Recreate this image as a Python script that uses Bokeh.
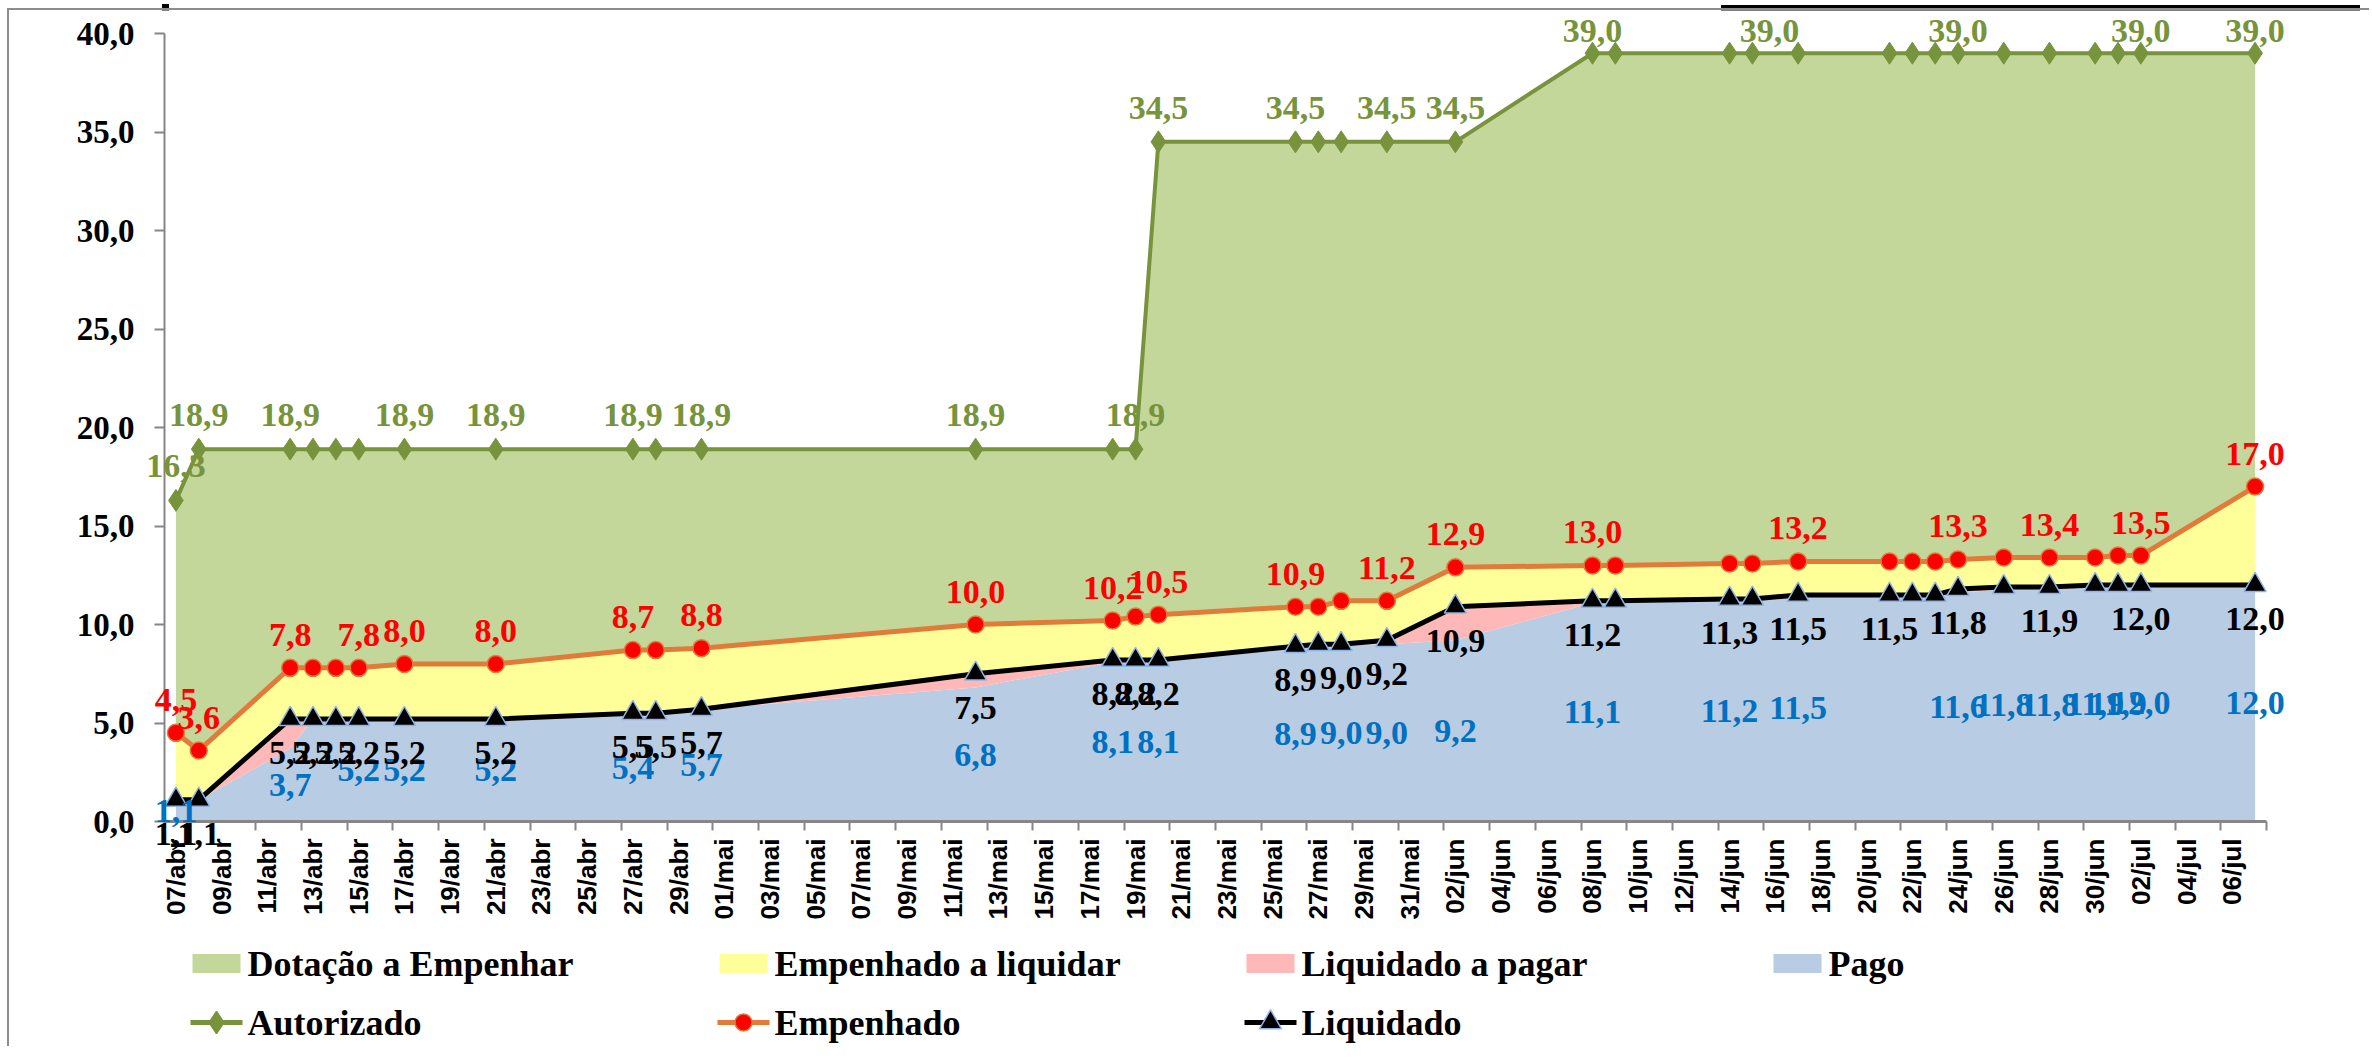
import math
from datetime import date
from bokeh.plotting import figure
from bokeh.models import ColumnDataSource, Range1d, FixedTicker, LabelSet, Div
from bokeh.layouts import column
from bokeh.core.properties import value
from bokeh.embed import file_html
from bokeh.resources import INLINE

ANO = 2013
INICIO = "07/04"

datas = ["07/04", "08/04", "12/04", "13/04", "14/04", "15/04", "17/04", "21/04",
         "27/04", "28/04", "30/04", "12/05", "18/05", "19/05", "20/05", "26/05",
         "27/05", "28/05", "30/05", "02/06", "08/06", "09/06", "14/06", "15/06",
         "17/06", "21/06", "22/06", "23/06", "24/06", "26/06", "28/06", "30/06",
         "01/07", "02/07", "07/07"]

autorizado = [16.3, 18.9, 18.9, 18.9, 18.9, 18.9, 18.9, 18.9,
              18.9, 18.9, 18.9, 18.9, 18.9, 18.9, 34.5, 34.5,
              34.5, 34.5, 34.5, 34.5, 39.0, 39.0, 39.0, 39.0,
              39.0, 39.0, 39.0, 39.0, 39.0, 39.0, 39.0, 39.0,
              39.0, 39.0, 39.0]

empenhado = [4.5, 3.6, 7.8, 7.8, 7.8, 7.8, 8.0, 8.0,
             8.7, 8.7, 8.8, 10.0, 10.2, 10.4, 10.5, 10.9,
             10.9, 11.2, 11.2, 12.9, 13.0, 13.0, 13.1, 13.1,
             13.2, 13.2, 13.2, 13.2, 13.3, 13.4, 13.4, 13.4,
             13.5, 13.5, 17.0]

liquidado = [1.1, 1.1, 5.2, 5.2, 5.2, 5.2, 5.2, 5.2,
             5.5, 5.5, 5.7, 7.5, 8.2, 8.2, 8.2, 8.9,
             9.0, 9.0, 9.2, 10.9, 11.2, 11.2, 11.3, 11.3,
             11.5, 11.5, 11.5, 11.5, 11.8, 11.9, 11.9, 12.0,
             12.0, 12.0, 12.0]

pago = [1.1, 1.1, 3.7, 5.2, 5.2, 5.2, 5.2, 5.2,
        5.4, 5.5, 5.7, 6.8, 8.1, 8.1, 8.1, 8.9,
        9.0, 9.0, 9.0, 9.2, 11.1, 11.2, 11.2, 11.3,
        11.5, 11.5, 11.5, 11.5, 11.6, 11.8, 11.8, 11.9,
        11.9, 12.0, 12.0]

# dates whose points carry a data label, per series
rot_autorizado = ["07/04", "08/04", "12/04", "17/04", "21/04", "27/04", "30/04",
                  "12/05", "19/05", "20/05", "26/05", "30/05", "02/06",
                  "08/06", "15/06", "24/06", "02/07", "07/07"]
rot_empenhado = ["07/04", "08/04", "12/04", "15/04", "17/04", "21/04", "27/04",
                 "30/04", "12/05", "18/05", "20/05", "26/05", "30/05", "02/06",
                 "08/06", "17/06", "24/06", "28/06", "02/07", "07/07"]
rot_liquidado = ["07/04", "08/04", "12/04", "13/04", "14/04", "15/04", "17/04",
                 "21/04", "27/04", "28/04", "30/04", "12/05", "18/05", "19/05",
                 "20/05", "26/05", "28/05", "30/05", "02/06", "08/06", "14/06",
                 "17/06", "21/06", "24/06", "28/06", "02/07", "07/07"]
rot_pago = ["07/04", "12/04", "15/04", "17/04", "21/04", "27/04", "30/04",
            "12/05", "18/05", "20/05", "26/05", "28/05", "30/05", "02/06",
            "08/06", "14/06", "17/06", "24/06", "26/06", "28/06", "30/06",
            "01/07", "02/07", "07/07"]

rotulos_x = ["07/abr", "09/abr", "11/abr", "13/abr", "15/abr", "17/abr", "19/abr",
             "21/abr", "23/abr", "25/abr", "27/abr", "29/abr", "01/mai", "03/mai",
             "05/mai", "07/mai", "09/mai", "11/mai", "13/mai", "15/mai", "17/mai",
             "19/mai", "21/mai", "23/mai", "25/mai", "27/mai", "29/mai", "31/mai",
             "02/jun", "04/jun", "06/jun", "08/jun", "10/jun", "12/jun", "14/jun",
             "16/jun", "18/jun", "20/jun", "22/jun", "24/jun", "26/jun", "28/jun",
             "30/jun", "02/jul", "04/jul", "06/jul"]
ticks_y = [0, 5, 10, 15, 20, 25, 30, 35, 40]
rotulos_y = ["0,0", "5,0", "10,0", "15,0", "20,0", "25,0", "30,0", "35,0", "40,0"]

nomes_areas = ["Dotação a Empenhar", "Empenhado a liquidar", "Liquidado a pagar", "Pago"]
nomes_linhas = ["Autorizado", "Empenhado", "Liquidado"]

MESES = {"abr": 4, "mai": 5, "jun": 6, "jul": 7}


def dia(s):
    d, m = s.split("/")
    m = MESES.get(m, None) or int(m)
    d0, m0 = INICIO.split("/")
    return (date(ANO, m, int(d)) - date(ANO, int(m0), int(d0))).days


def fmt(v):
    return f"{v:.1f}".replace(".", ",")


x = [dia(s) for s in datas]
ultimo = x[-1]

# colours / styles
VERDE_AREA = "#C4D79B"
AMARELO = "#FFFF99"
ROSA = "#FFB8B8"
AZUL_AREA = "#B8CCE4"
VERDE = "#77933C"
LARANJA = "#E07B39"
VERMELHO = "#FF0000"
AZUL_TXT = "#0070C0"
CINZA = "#868686"
SERIF = "Liberation Serif"
SANS = "Liberation Sans"

# canvas layout (pixels inside the figure)
W = 2360
H1 = 911
H2 = 125
PX_XI, PX_XF = 155, 2257     # plot-area left / right
PX_YT, PX_YB = 23, 811       # plot-area top (40) / bottom (0)
Y_MAX = 40

kx = (PX_XF - PX_XI) / (ultimo + 1)
ky = (PX_YB - PX_YT) / Y_MAX
x_ini = -0.5
x_fim = ultimo + 0.5
xr = Range1d(x_ini - PX_XI / kx, x_fim + (W - PX_XF) / kx)
yr = Range1d(0 - (H1 - PX_YB) / ky, Y_MAX + PX_YT / ky)

p = figure(width=W, height=H1, x_range=xr, y_range=yr,
           output_backend="svg", toolbar_location=None, min_border=0)
p.title.visible = False
p.outline_line_color = None
p.xgrid.visible = False
p.ygrid.visible = False
p.background_fill_color = "white"
p.border_fill_color = "white"

src = ColumnDataSource(dict(x=x, aut=autorizado, emp=empenhado, liq=liquidado, pago=pago,
                            zero=[0] * len(x)))

p.varea(x="x", y1="zero", y2="pago", source=src, fill_color=AZUL_AREA)
p.varea(x="x", y1="pago", y2="liq", source=src, fill_color=ROSA)
p.varea(x="x", y1="liq", y2="emp", source=src, fill_color=AMARELO)
p.varea(x="x", y1="emp", y2="aut", source=src, fill_color=VERDE_AREA)

p.line(x="x", y="aut", source=src, line_color=VERDE, line_width=4)
p.scatter(x="x", y="aut", source=src, marker="diamond", size=22,
          fill_color=VERDE, line_color=VERDE)
p.line(x="x", y="emp", source=src, line_color=LARANJA, line_width=5)
p.scatter(x="x", y="emp", source=src, marker="circle", size=17,
          fill_color=VERMELHO, line_color=LARANJA, line_width=1.5)
p.line(x="x", y="liq", source=src, line_color="black", line_width=5)
p.scatter(x="x", y="liq", source=src, marker="triangle", size=22,
          fill_color="black", line_color="#8EB4E3", line_width=1.5)

desloc_aut = {"15/06": 17}


def fonte_rotulos(serie, lista, fator=1.0, desloc=None, dy=0, dy_topo=None):
    desloc = desloc or {}
    idx = [datas.index(d) for d in lista]
    ys = [serie[i] * fator for i in idx]
    return ColumnDataSource(dict(
        x=[x[i] for i in idx],
        y=ys,
        text=[fmt(serie[i]) for i in idx],
        dx=[desloc.get(datas[i], 0) for i in idx],
        dy=[(dy_topo if (dy_topo is not None and v >= 39) else dy) for v in ys],
    ))


def rotulos(fonte, cor):
    p.add_layout(LabelSet(x="x", y="y", text="text", source=fonte, x_offset="dx", y_offset="dy",
                          text_align="center", text_baseline="middle", text_color=cor,
                          text_font=value(SERIF), text_font_style="bold",
                          text_font_size="34px"))


rotulos(fonte_rotulos(pago, rot_pago, 0.5), AZUL_TXT)
rotulos(fonte_rotulos(liquidado, rot_liquidado, dy=-34), "black")
rotulos(fonte_rotulos(empenhado, rot_empenhado, dy=33), VERMELHO)
rotulos(fonte_rotulos(autorizado, rot_autorizado, desloc=desloc_aut, dy=34, dy_topo=22), VERDE)

# axes (drawn at the plot-area edges)
yax = p.yaxis[0]
yax.fixed_location = x_ini
yax.bounds = (0, Y_MAX)
yax.ticker = FixedTicker(ticks=ticks_y)
yax.major_label_overrides = {t: r for t, r in zip(ticks_y, rotulos_y)}
yax.major_label_text_font = SERIF
yax.major_label_text_font_style = "bold"
yax.major_label_text_font_size = "33px"
yax.major_label_text_color = "black"
yax.axis_line_color = CINZA
yax.axis_line_width = 2
yax.major_tick_line_color = CINZA
yax.major_tick_line_width = 2
yax.major_tick_out = 10
yax.major_tick_in = 0
yax.minor_tick_line_color = None
yax.major_label_standoff = 20

ticks_x = [dia(r) for r in rotulos_x]
xax = p.xaxis[0]
xax.fixed_location = 0
xax.bounds = (x_ini, x_fim)
xax.ticker = FixedTicker(ticks=ticks_x, minor_ticks=[t - 0.5 for t in ticks_x] + [x_fim])
xax.major_label_overrides = {t: r for t, r in zip(ticks_x, rotulos_x)}
xax.major_label_orientation = math.pi / 2
xax.major_label_text_font = SANS
xax.major_label_text_font_style = "bold"
xax.major_label_text_font_size = "26px"
xax.major_label_text_color = "black"
xax.major_tick_line_color = None
xax.major_tick_out = 9
xax.minor_tick_line_color = CINZA
xax.minor_tick_line_width = 2
xax.minor_tick_out = 9
xax.minor_tick_in = 0
xax.axis_line_color = CINZA
xax.axis_line_width = 3
xax.major_label_standoff = 8

# legend drawn as its own small figure under the chart
leg = figure(width=W, height=H2, x_range=Range1d(0, W), y_range=Range1d(0, H2),
             output_backend="svg", toolbar_location=None, min_border=0,
             x_axis_type=None, y_axis_type=None)
leg.title.visible = False
leg.outline_line_color = None
leg.xgrid.visible = False
leg.ygrid.visible = False

col_x = [207, 734, 1261, 1788]
linha1_y = 83
linha2_y = 24
cores_areas = [VERDE_AREA, AMARELO, ROSA, AZUL_AREA]
for cx, nome, cor in zip(col_x, nomes_areas, cores_areas):
    leg.rect(x=cx, y=linha1_y, width=48, height=19, fill_color=cor, line_color=None)
    leg.text(x=cx + 31, y=linha1_y, text=[nome], text_align="left", text_baseline="middle",
             text_color="black", text_font=value(SERIF), text_font_style="bold",
             text_font_size="36px")

estilos = [
    dict(lc=VERDE, marker="diamond", size=22, fc=VERDE, mc=VERDE),
    dict(lc=LARANJA, marker="circle", size=17, fc=VERMELHO, mc=LARANJA),
    dict(lc="black", marker="triangle", size=22, fc="black", mc="#8EB4E3"),
]
for cx, nome, e in zip(col_x, nomes_linhas, estilos):
    leg.segment(x0=cx - 26, y0=linha2_y, x1=cx + 26, y1=linha2_y, line_color=e["lc"], line_width=5)
    leg.scatter(x=[cx], y=[linha2_y], marker=e["marker"], size=e["size"],
                fill_color=e["fc"], line_color=e["mc"], line_width=1.5)
    leg.text(x=cx + 31, y=linha2_y, text=[nome], text_align="left", text_baseline="middle",
             text_color="black", text_font=value(SERIF), text_font_style="bold",
             text_font_size="36px")

topo = Div(text=('<svg width="2360" height="8" xmlns="http://www.w3.org/2000/svg" style="display:block">'
                 '<rect x="162" y="0" width="7" height="8" fill="#000"/>'
                 '<rect x="1721" y="1" width="639" height="6" fill="#000"/>'
                 '</svg>'),
           width=2360, height=8, styles={"margin": "0", "padding": "0", "overflow": "visible"})

corpo = column(p, leg, styles={"margin-left": "7px",
                               "border-left": "2px solid #8c8c8c",
                               "border-top": "2px solid #8c8c8c"})
layout = column(topo, corpo)

open("out.html", "w").write(file_html(layout, INLINE))
